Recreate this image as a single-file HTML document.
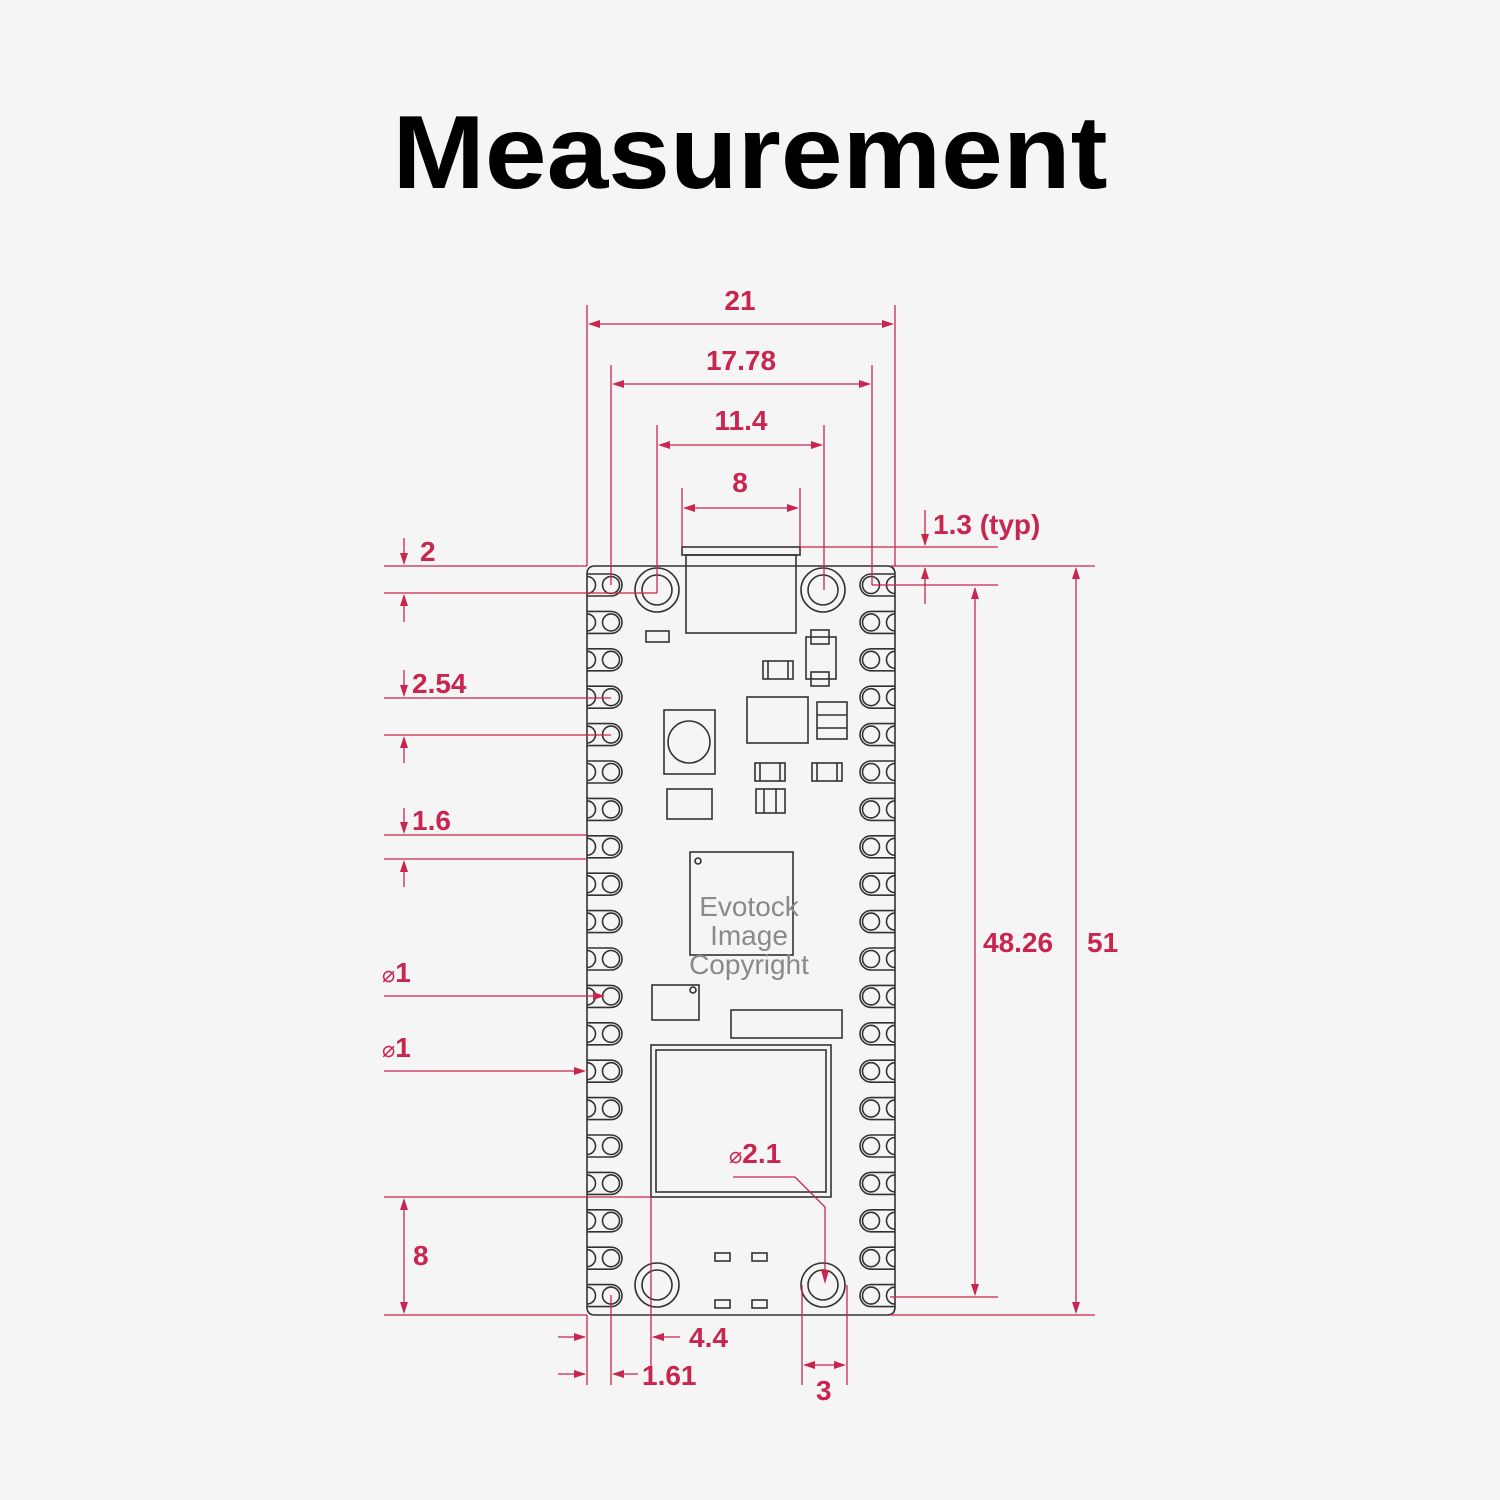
<!DOCTYPE html>
<html><head><meta charset="utf-8"><style>
html,body{margin:0;padding:0;background:#f5f5f5}
svg{display:block}
.p{stroke:#c8254f;stroke-width:1.3;fill:none}
.b{stroke:#333;stroke-width:1.6;fill:none}
.t{fill:#c8254f;font-family:"Liberation Sans",sans-serif;font-weight:bold;font-size:28px}
.ah{fill:#c8254f}
</style></head><body>
<svg id="s" width="1500" height="1500" viewBox="0 0 1500 1500" xmlns="http://www.w3.org/2000/svg">
<rect width="1500" height="1500" fill="#f5f5f5"/>
<text x="750" y="188" text-anchor="middle" font-family="Liberation Sans, sans-serif" font-weight="bold" font-size="104" textLength="715" lengthAdjust="spacingAndGlyphs" fill="#000">Measurement</text>

<path class="b" d="M595 566 H887 Q895 566 895 574 V1307 Q895 1315 887 1315 H595 Q587 1315 587 1307 V574 Q587 566 595 566 Z"/>
<g id="pins"></g>
<g class="b">
<circle cx="657" cy="590" r="22"/><circle cx="657" cy="590" r="15"/>
<circle cx="823" cy="590" r="22"/><circle cx="823" cy="590" r="15"/>
<circle cx="657" cy="1285" r="22"/><circle cx="657" cy="1285" r="15"/>
<circle cx="823" cy="1285" r="22"/><circle cx="823" cy="1285" r="15"/>
<rect x="682" y="547" width="118" height="8"/>
<rect x="686" y="555" width="110" height="78"/>
<rect x="646" y="631" width="23" height="11"/>
<rect x="763" y="661" width="30" height="18"/><line x1="768" y1="661" x2="768" y2="679"/><line x1="788" y1="661" x2="788" y2="679"/>
<rect x="811" y="630" width="18" height="14"/><rect x="806" y="637" width="30" height="42"/><rect x="811" y="672" width="18" height="14"/>
<rect x="664" y="710" width="51" height="64"/><circle cx="689" cy="742" r="21"/>
<rect x="747" y="697" width="61" height="46"/>
<rect x="817" y="702" width="30" height="37"/><line x1="817" y1="715" x2="847" y2="715"/><line x1="817" y1="728" x2="847" y2="728"/>
<rect x="755" y="763" width="30" height="18"/><line x1="760" y1="763" x2="760" y2="781"/><line x1="780" y1="763" x2="780" y2="781"/>
<rect x="812" y="763" width="30" height="18"/><line x1="817" y1="763" x2="817" y2="781"/><line x1="837" y1="763" x2="837" y2="781"/>
<rect x="667" y="789" width="45" height="30"/>
<rect x="756" y="789" width="29" height="24"/><line x1="764" y1="789" x2="764" y2="813"/><line x1="776" y1="789" x2="776" y2="813"/>
<rect x="690" y="852" width="103" height="103"/><circle cx="698" cy="861" r="3"/>
<rect x="652" y="985" width="47" height="35"/><circle cx="693" cy="990" r="3"/>
<rect x="731" y="1010" width="111" height="28"/>
<rect x="651" y="1045" width="180" height="152"/><rect x="656" y="1050" width="170" height="142"/>
<rect x="715" y="1253" width="15" height="8"/><rect x="752" y="1253" width="15" height="8"/>
<rect x="715" y="1300" width="15" height="8"/><rect x="752" y="1300" width="15" height="8"/>
</g>
<text x="749" y="916" text-anchor="middle" font-family="Liberation Sans, sans-serif" font-size="28" fill="#8a8a8a">Evotock</text>
<text x="749" y="945" text-anchor="middle" font-family="Liberation Sans, sans-serif" font-size="28" fill="#8a8a8a">Image</text>
<text x="749" y="974" text-anchor="middle" font-family="Liberation Sans, sans-serif" font-size="28" fill="#8a8a8a">Copyright</text>

<g class="p">
<line x1="587" y1="305" x2="587" y2="566"/><line x1="895" y1="305" x2="895" y2="566"/><line x1="590" y1="324" x2="892" y2="324"/>
<line x1="611" y1="365" x2="611" y2="585"/><line x1="872" y1="365" x2="872" y2="585"/><line x1="614" y1="384" x2="869" y2="384"/>
<line x1="657" y1="425" x2="657" y2="590"/><line x1="824" y1="425" x2="824" y2="590"/><line x1="660" y1="445" x2="821" y2="445"/>
<line x1="682" y1="488" x2="682" y2="547"/><line x1="800" y1="488" x2="800" y2="547"/><line x1="685" y1="508" x2="797" y2="508"/>
<line x1="800" y1="547" x2="998" y2="547"/><line x1="890" y1="566" x2="1095" y2="566"/><line x1="872" y1="585" x2="998" y2="585"/>
<line x1="925" y1="510" x2="925" y2="545"/><line x1="925" y1="568" x2="925" y2="604"/>
<line x1="975" y1="588" x2="975" y2="1294"/><line x1="890" y1="1297" x2="998" y2="1297"/>
<line x1="1076" y1="569" x2="1076" y2="1312"/><line x1="890" y1="1315" x2="1095" y2="1315"/>
<line x1="384" y1="566" x2="587" y2="566"/><line x1="384" y1="593" x2="657" y2="593"/><line x1="657" y1="590" x2="657" y2="593"/>
<line x1="404" y1="538" x2="404" y2="563"/><line x1="404" y1="596" x2="404" y2="622"/>
<line x1="384" y1="698" x2="611" y2="698"/><line x1="384" y1="735" x2="611" y2="735"/>
<line x1="404" y1="670" x2="404" y2="695"/><line x1="404" y1="738" x2="404" y2="763"/>
<line x1="384" y1="835" x2="587" y2="835"/><line x1="384" y1="859" x2="587" y2="859"/>
<line x1="404" y1="808" x2="404" y2="832"/><line x1="404" y1="862" x2="404" y2="887"/>
<line x1="384" y1="996" x2="602" y2="996"/>
<line x1="384" y1="1071" x2="584" y2="1071"/>
<line x1="384" y1="1197" x2="651" y2="1197"/><line x1="404" y1="1200" x2="404" y2="1312"/><line x1="384" y1="1315" x2="587" y2="1315"/>
<line x1="587" y1="1315" x2="587" y2="1385"/><line x1="651" y1="1197" x2="651" y2="1385"/><line x1="611" y1="1295" x2="611" y2="1385"/>
<line x1="558" y1="1337" x2="585" y2="1337"/><line x1="653" y1="1337" x2="680" y2="1337"/>
<line x1="558" y1="1374" x2="585" y2="1374"/><line x1="613" y1="1374" x2="638" y2="1374"/>
<line x1="802" y1="1285" x2="802" y2="1385"/><line x1="847" y1="1285" x2="847" y2="1385"/><line x1="805" y1="1365" x2="844" y2="1365"/>
<polyline points="733,1177 795,1177 825,1207 825,1280"/>
</g>
<g class="ah">
<path d="M588 324 l12 -4 v8z"/><path d="M894 324 l-12 -4 v8z"/>
<path d="M612 384 l12 -4 v8z"/><path d="M871 384 l-12 -4 v8z"/>
<path d="M658 445 l12 -4 v8z"/><path d="M823 445 l-12 -4 v8z"/>
<path d="M683 508 l12 -4 v8z"/><path d="M799 508 l-12 -4 v8z"/>
<path d="M925 546 l-4 -12 h8z"/><path d="M925 567 l-4 12 h8z"/>
<path d="M975 587 l-4 12 h8z"/><path d="M975 1296 l-4 -12 h8z"/>
<path d="M1076 567 l-4 12 h8z"/><path d="M1076 1314 l-4 -12 h8z"/>
<path d="M404 565 l-4 -12 h8z"/><path d="M404 594 l-4 12 h8z"/>
<path d="M404 697 l-4 -12 h8z"/><path d="M404 736 l-4 12 h8z"/>
<path d="M404 834 l-4 -12 h8z"/><path d="M404 860 l-4 12 h8z"/>
<path d="M605 996 l-12 -4 v8z"/><path d="M586 1071 l-12 -4 v8z"/>
<path d="M404 1198 l-4 12 h8z"/><path d="M404 1314 l-4 -12 h8z"/>
<path d="M586 1337 l-12 -4 v8z"/><path d="M652 1337 l12 -4 v8z"/>
<path d="M586 1374 l-12 -4 v8z"/><path d="M612 1374 l12 -4 v8z"/>
<path d="M803 1365 l12 -4 v8z"/><path d="M846 1365 l-12 -4 v8z"/>
<path d="M825 1284 l-4 -14 h8z"/>
</g>
<g class="t">
<text x="740" y="310" text-anchor="middle">21</text>
<text x="741" y="370" text-anchor="middle">17.78</text>
<text x="741" y="430" text-anchor="middle">11.4</text>
<text x="740" y="492" text-anchor="middle">8</text>
<text x="933" y="534">1.3 (typ)</text>
<text x="983" y="952">48.26</text>
<text x="1087" y="952">51</text>
<text x="420" y="561">2</text>
<text x="412" y="693">2.54</text>
<text x="412" y="830">1.6</text>
<text x="382" y="982"><tspan font-size="22" font-weight="normal">⌀</tspan>1</text>
<text x="382" y="1057"><tspan font-size="22" font-weight="normal">⌀</tspan>1</text>
<text x="729" y="1163"><tspan font-size="22" font-weight="normal">⌀</tspan>2.1</text>
<text x="413" y="1265">8</text>
<text x="689" y="1347">4.4</text>
<text x="642" y="1385">1.61</text>
<text x="816" y="1400">3</text>
</g>
</svg>
<script>
var g=document.getElementById('pins'),h='';
for(var i=0;i<20;i++){var y=585+i*37.4;
h+='<path class="b" d="M587 '+(y-11)+' H611 A11 11 0 0 1 611 '+(y+11)+' H587"/>';
h+='<circle class="b" cx="611" cy="'+y+'" r="8.5"/><path class="b" d="M587 '+(y-8.5)+' A8.5 8.5 0 0 1 587 '+(y+8.5)+'"/>';
h+='<path class="b" d="M895 '+(y-11)+' H871 A11 11 0 0 0 871 '+(y+11)+' H895"/>';
h+='<circle class="b" cx="871" cy="'+y+'" r="8.5"/><path class="b" d="M895 '+(y-8.5)+' A8.5 8.5 0 0 0 895 '+(y+8.5)+'"/>';}
g.innerHTML=h;
</script>
</body></html>
